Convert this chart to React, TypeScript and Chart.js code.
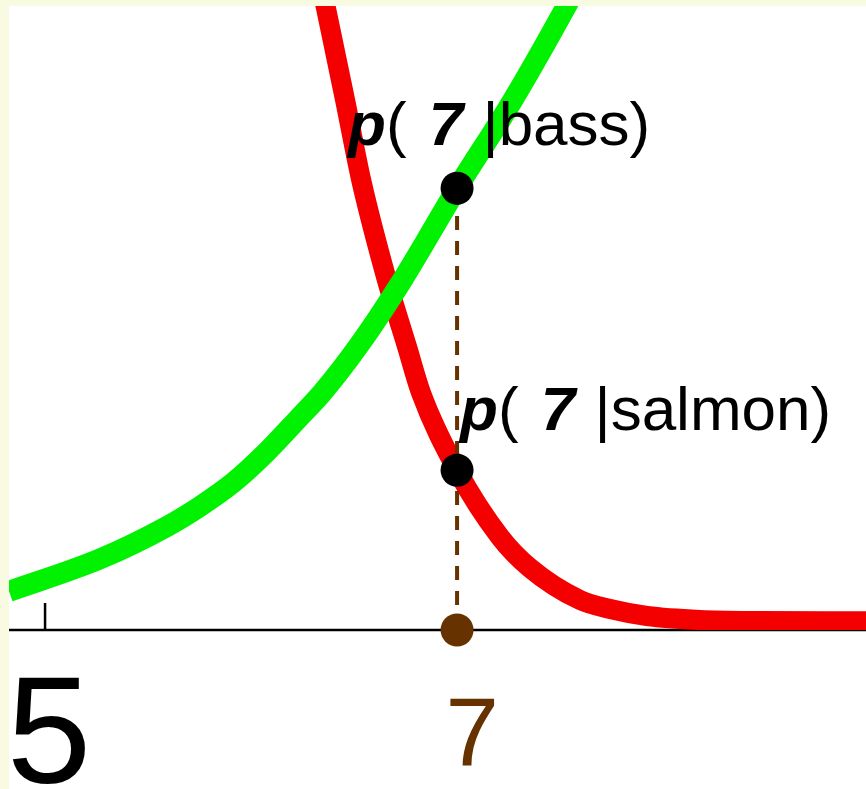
import { useEffect, useRef } from "react";
import { Chart, registerables } from "chart.js";

Chart.register(...registerables);

// Class-conditional densities of the lightness feature
const bassX = [4.825, 5.267, 5.592, 5.752, 5.913, 6.078, 6.238, 6.345, 6.519, 6.733, 7.0, 7.272, 7.534, 7.65];
const bassY = [0.031, 0.057, 0.083, 0.099, 0.118, 0.143, 0.171, 0.19, 0.227, 0.28, 0.354, 0.425, 0.501, 0.537];

const salmonX = [6.345, 6.456, 6.534, 6.66, 6.757, 6.825, 7.0, 7.209, 7.354, 7.597, 7.743, 7.922, 8.18, 8.471, 8.985];
const salmonY = [0.513, 0.425, 0.361, 0.28, 0.227, 0.19, 0.128, 0.0745, 0.0497, 0.024, 0.0168, 0.0112, 0.008, 0.0072, 0.007];

// Observed feature value and the two likelihoods read at it
const featureValue = 7;
const pBass = 0.354;
const pSalmon = 0.128;
const classNames = ["bass", "salmon"];

// Axis
const xMin = 4.825;
const xMax = 8.985;
const yMin = 0;
const yMax = 0.5;
const tickMarks = [5];
const tickValues = [5, 7];
const tickLabels = ["5", "7"];

const BROWN = "#663300";
const FONT = '"Liberation Sans", Arial, Helvetica, sans-serif';

const toPoints = (xs: number[], ys: number[]) => xs.map((x, i) => ({ x, y: ys[i] }));

type Part = { text: string; font: string; gap?: number };

function drawRich(ctx: CanvasRenderingContext2D, parts: Part[], x: number, y: number) {
  let cx = x;
  for (const p of parts) {
    cx += p.gap ?? 0;
    ctx.font = p.font;
    ctx.fillText(p.text, cx, y);
    cx += ctx.measureText(p.text).width;
  }
}

const annotate = {
  id: "annotate",
  beforeDatasetsDraw(chart: any) {
    const { ctx, chartArea, scales } = chart;
    const xs = scales.x;
    const ys = scales.y;
    const y0 = ys.getPixelForValue(0);
    ctx.save();
    ctx.strokeStyle = "#000";
    ctx.lineWidth = 2.5;
    ctx.beginPath();
    ctx.moveTo(chartArea.left, y0);
    ctx.lineTo(chartArea.right, y0);
    ctx.stroke();
    for (const v of tickMarks) {
      const px = xs.getPixelForValue(v);
      ctx.beginPath();
      ctx.moveTo(px, y0 - 27);
      ctx.lineTo(px, y0);
      ctx.stroke();
    }
    ctx.restore();
  },
  afterDatasetsDraw(chart: any) {
    const { ctx, scales } = chart;
    const xs = scales.x;
    const ys = scales.y;
    const y0 = ys.getPixelForValue(0);
    ctx.save();

    // tick labels
    ctx.textAlign = "center";
    ctx.textBaseline = "alphabetic";
    tickValues.forEach((v, i) => {
      const px = xs.getPixelForValue(v);
      if (v === featureValue) {
        ctx.fillStyle = BROWN;
        ctx.font = `96px ${FONT}`;
        ctx.fillText(tickLabels[i], px + 15, y0 + 135);
      } else {
        ctx.fillStyle = "#000";
        ctx.font = `152px ${FONT}`;
        ctx.fillText(tickLabels[i], px + 4, y0 + 153);
      }
    });

    // likelihood labels
    ctx.textAlign = "left";
    ctx.fillStyle = "#000";
    const bi = `italic bold 62px ${FONT}`;
    const rg = `62px ${FONT}`;
    const fx = xs.getPixelForValue(featureValue);
    const label = (name: string): Part[] => [
      { text: "p", font: bi },
      { text: "( ", font: rg },
      { text: String(featureValue), font: bi, gap: 5 },
      { text: ` |${name})`, font: rg, gap: 2 },
    ];
    drawRich(ctx, label(classNames[0]), fx - 109, ys.getPixelForValue(pBass) - 43);
    drawRich(ctx, label(classNames[1]), fx + 3, ys.getPixelForValue(pSalmon) - 40);
    ctx.restore();
  },
};

export default function App() {
  const canvasRef = useRef<HTMLCanvasElement | null>(null);

  useEffect(() => {
    const canvas = canvasRef.current;
    if (!canvas) return;
    const chart = new Chart(canvas, {
      type: "line",
      data: {
        datasets: [
          {
            label: "points",
            data: [
              { x: featureValue, y: pBass },
              { x: featureValue, y: pSalmon },
              { x: featureValue, y: 0 },
            ],
            showLine: false,
            pointRadius: 16.5,
            pointBorderWidth: 0,
            pointBackgroundColor: ["#000", "#000", BROWN],
            pointBorderColor: ["#000", "#000", BROWN],
            clip: false as any,
          },
          {
            label: "drop",
            data: [
              { x: featureValue, y: 0 },
              { x: featureValue, y: pBass },
            ],
            borderColor: BROWN,
            borderWidth: 4,
            borderDash: [14, 11],
            pointRadius: 0,
          },
          {
            label: "bass",
            data: toPoints(bassX, bassY),
            borderColor: "rgb(0,242,0)",
            borderWidth: 21,
            pointRadius: 0,
            cubicInterpolationMode: "monotone",
            borderJoinStyle: "round",
          },
          {
            label: "salmon",
            data: toPoints(salmonX, salmonY),
            borderColor: "rgb(245,0,0)",
            borderWidth: 20,
            pointRadius: 0,
            cubicInterpolationMode: "monotone",
            borderJoinStyle: "round",
          },
        ],
      },
      options: {
        animation: false,
        responsive: false,
        maintainAspectRatio: false,
        layout: { autoPadding: false, padding: { left: 0, right: 0, top: 0, bottom: 159 } },
        plugins: { legend: { display: false }, tooltip: { enabled: false } },
        scales: {
          x: { type: "linear", min: xMin, max: xMax, display: false },
          y: { type: "linear", min: yMin, max: yMax, display: false },
        },
      },
      plugins: [annotate],
    });
    return () => chart.destroy();
  }, []);

  return (
    <div
      style={{
        position: "fixed",
        left: 0,
        top: 0,
        width: 866,
        height: 789,
        background: "#f8fbe2",
        overflow: "hidden",
      }}
    >
      <div style={{ position: "absolute", left: 9, top: 6, width: 857, height: 783, background: "#fff" }}>
        <canvas ref={canvasRef} width={857} height={783} style={{ display: "block" }} />
      </div>
    </div>
  );
}
